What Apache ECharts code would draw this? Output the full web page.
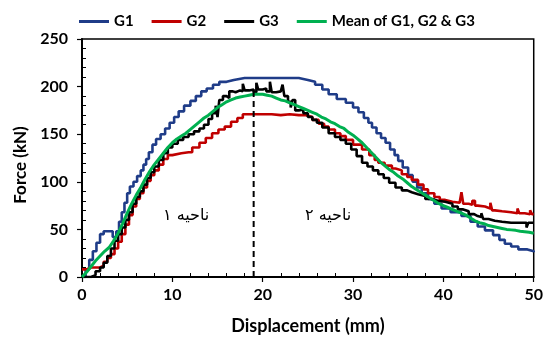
<!DOCTYPE html>
<html>
<head>
<meta charset="utf-8">
<script src="https://cdn.jsdelivr.net/npm/echarts@6/dist/echarts.min.js"></script>
<style>html,body{margin:0;padding:0;background:#fff}#c{width:546px;height:341px}</style>
</head>
<body>
<div id="c"></div>
<script>
const seriesNames = ['G1', 'G2', 'G3', 'Mean of G1, G2 & G3'];
const xTicks = [0, 10, 20, 30, 40, 50];
const yTicks = [0, 50, 100, 150, 200, 250];

const g1 = [[0,0],[0.4,8],[0.8,18],[1.2,27],[1.6,36],[2.0,45],[2.4,48],[3.0,48],[3.4,42],[3.8,48],[4.1,58],[4.4,68],[4.7,78],[5.0,88],[5.3,95],[5.7,100],[6.1,106],[6.5,112],[6.8,118],[7.1,124],[7.4,131],[7.8,139],[8.2,145],[8.7,150],[9.2,156],[9.7,162],[10.2,168],[10.7,174],[11.3,180],[12.0,185],[12.6,190],[13.2,195],[13.8,198],[14.5,202],[15.2,205],[16.0,207],[16.8,209],[18,209],[20,209],[22,209],[24,207],[25,205],[25.8,202],[26.6,197],[27.3,192],[28.2,187],[29.2,183],[30,178],[30.6,173],[31.2,167],[31.7,162],[32.1,157],[32.6,151],[33.1,146],[33.6,141],[34.1,134],[34.6,128],[35,122],[35.5,115],[36.1,107],[36.6,100],[37.1,94],[37.6,88],[38.3,82],[39,77],[39.8,72],[40.8,68],[42,64],[43,58],[43.8,53],[44.6,49],[45.5,44],[46.2,39],[46.8,35],[47.5,32],[48.3,29],[49.3,27],[50,26]];

const g2 = [[0,8],[0.5,10],[1,10],[1.5,10],[2,12],[2.4,16],[2.8,20],[3.2,24],[3.6,30],[4,37],[4.4,45],[4.8,55],[5.2,65],[5.6,74],[6,82],[6.4,88],[6.8,94],[7.2,101],[7.6,107],[8,112],[8.5,118],[9,124],[9.5,128],[10,130],[11,131],[11.8,131],[12.2,136],[13,141],[13.7,146],[14.4,151],[15.1,155],[15.8,158],[16.5,163],[17.2,167],[17.8,171],[19,171],[20,171],[21,170],[22,171],[23,170],[24,170],[24.8,168],[25.5,165],[26.2,161],[26.8,158],[27.3,155],[28,151],[28.6,148],[29.2,144],[30,139],[31,134],[31.8,128],[32.4,123],[32.8,120],[33.5,117],[34.3,114],[34.7,112],[35.4,108],[36,105],[36.5,102],[37.2,97],[37.8,92],[38.3,88],[39,84],[39.6,81],[40.2,79],[41,78],[41.8,77],[42,89],[42.2,77],[42.8,76],[43.2,80],[43.5,75],[43.8,74],[44.6,72],[45.2,78],[45.4,70],[45.7,69],[46.5,68],[47.5,67],[48.2,72],[48.4,67],[49,66],[49.6,70],[49.8,66],[50,66]];

const g3 = [[0,0],[0.5,0],[1,2],[1.5,6],[2,10],[2.4,15],[2.8,22],[3.2,30],[3.6,38],[4,45],[4.4,52],[4.8,60],[5.2,68],[5.6,77],[6,84],[6.4,90],[6.8,97],[7.2,104],[7.6,110],[8,116],[8.5,123],[9,130],[9.5,136],[10,140],[10.6,144],[11.2,147],[11.8,150],[12.4,153],[13,156],[13.5,160],[14,166],[14.4,172],[14.8,180],[15.0,168],[15.2,186],[15.6,190],[16,188],[16.3,195],[16.7,194],[17,196],[17.5,195],[17.8,203],[18,196],[18.5,197],[19,194],[19.3,204],[19.5,197],[20,198],[20.4,195],[20.8,205],[21,194],[21.5,195],[22,193],[22.2,202],[22.4,190],[22.8,184],[23.1,178],[23.3,186],[23.6,175],[24,176],[24.5,172],[25,168],[25.5,165],[26,162],[26.6,157],[27.3,151],[28,147],[28.6,144],[29.2,140],[29.8,134],[30.4,127],[31,120],[31.6,116],[32.2,112],[32.8,108],[33.4,104],[34,99],[34.7,94],[35.4,91],[36,89],[36.5,87],[37.2,85],[38,82],[38.6,80],[39.4,79],[40.2,77],[41,74],[41.6,71],[42.2,69],[42.8,66],[43.4,64],[43.8,63],[44.2,67],[44.4,61],[45,59],[45.7,58],[46.5,57],[47.5,57],[48.5,57],[49.2,52],[49.4,57],[50,57]];

const mean = [[0,0],[0.5,5],[1,11],[1.5,17],[2,22],[2.5,27],[3,31],[3.5,38],[4,46],[4.5,56],[5,67],[5.5,77],[6,86],[6.5,94],[7,103],[7.5,111],[8,118],[8.5,124],[9,130],[9.5,136],[10,141],[10.5,145],[11,148],[11.5,151],[12,155],[12.5,159],[13,163],[13.5,167],[14,170],[14.5,174],[15,178],[15.5,181],[16,184],[16.5,186],[17,188],[17.5,189],[18,190],[18.5,191],[19,192],[19.5,192],[20,192],[20.5,191],[21,190],[21.5,188],[22,186],[22.5,185],[23,183],[23.5,181],[24,179],[24.5,177],[25,175],[25.5,173],[26,171],[26.5,168],[27,166],[27.5,163],[28,161],[28.5,158],[29,156],[29.5,152],[30,149],[30.5,145],[31,141],[31.5,136],[32,131],[32.5,126],[33,121],[33.5,117],[34,113],[34.5,110],[35,106],[35.5,103],[36,99],[36.5,95],[37,92],[37.5,89],[38,86],[38.5,83],[39,80],[39.5,77],[40,75],[40.5,73],[41,71],[41.5,69],[42,67],[42.5,65],[43,62],[43.5,59],[44,57],[44.5,56],[45,54],[45.5,53],[46,52],[46.5,51],[47,50],[47.5,49.5],[48,49],[48.5,48],[49,47.5],[49.5,47],[50,46]];

const divider = [[19,0],[19,196]];
const regionLabels = ['ناحیه ۱', 'ناحیه ۲'];

const colors = ['#1f3c88', '#c00000', '#000000', '#00b050'];
const font = 'Lato, "Open Sans", sans-serif';

const chart = echarts.init(document.getElementById('c'), null, {renderer: 'canvas'});
const allData = [g1, g2, g3, mean];
chart.setOption({
  animation: false,
  backgroundColor: '#fff',
  grid: {left: 82, right: 10, top: 39, bottom: 64, show: true, borderColor: '#000', borderWidth: 1.5, backgroundColor: 'transparent'},
  legend: {
    data: seriesNames.map(n => ({name: n, icon: 'rect'})), left: 74, top: 9, itemWidth: 30, itemHeight: 3, itemGap: 18,
    textStyle: {fontFamily: font, fontWeight: 'bold', fontSize: 15, color: '#000'}
  },
  xAxis: {
    type: 'value', min: xTicks[0], max: xTicks[xTicks.length-1], interval: 10,
    name: 'Displacement (mm)', nameLocation: 'middle', nameGap: 40,
    nameTextStyle: {fontFamily: font, fontWeight: 'bold', fontSize: 18, color: '#000'},
    axisLine: {show: true, lineStyle: {color: '#000', width: 2}},
    axisTick: {show: true, inside: false, length: 5, lineStyle: {color: '#000', width: 1.2}},
    minorTick: {show: true, splitNumber: 5, length: -4, lineStyle: {color: '#000', width: 1}},
    axisLabel: {fontFamily: font, fontWeight: 'bold', fontSize: 16, color: '#000', margin: 10},
    splitLine: {show: false}
  },
  yAxis: {
    type: 'value', min: yTicks[0], max: yTicks[yTicks.length-1], interval: 50,
    name: 'Force (kN)', nameLocation: 'middle', nameGap: 53,
    nameTextStyle: {fontFamily: font, fontWeight: 'bold', fontSize: 17, color: '#000', padding: [0, 0, 0, -14]},
    axisLine: {show: true, lineStyle: {color: '#000', width: 2}},
    axisTick: {show: true, inside: false, length: 5, lineStyle: {color: '#000', width: 1.2}},
    minorTick: {show: true, splitNumber: 5, length: -4, lineStyle: {color: '#000', width: 1}},
    axisLabel: {fontFamily: font, fontWeight: 'bold', fontSize: 16, color: '#000', margin: 14},
    splitLine: {show: false}
  },
  series: allData.map((d, i) => ({
    name: seriesNames[i], type: 'line', data: d, symbol: 'none',
    step: i < 3 ? 'end' : false,
    lineStyle: {color: colors[i], width: i === 3 ? 3 : 2.6}, itemStyle: {color: colors[i]}
  })).concat([{
    name: 'divider', type: 'line', data: divider, symbol: 'none',
    lineStyle: {color: '#000', width: 2, type: [6, 4]}, silent: true
  }]),
  graphic: [
    {type: 'text', left: 163, top: 208, style: {text: regionLabels[0], font: '16px "DejaVu Sans"', fill: '#000'}},
    {type: 'text', left: 305, top: 208, style: {text: regionLabels[1], font: '16px "DejaVu Sans"', fill: '#000'}}
  ]
});
</script>
</body>
</html>
